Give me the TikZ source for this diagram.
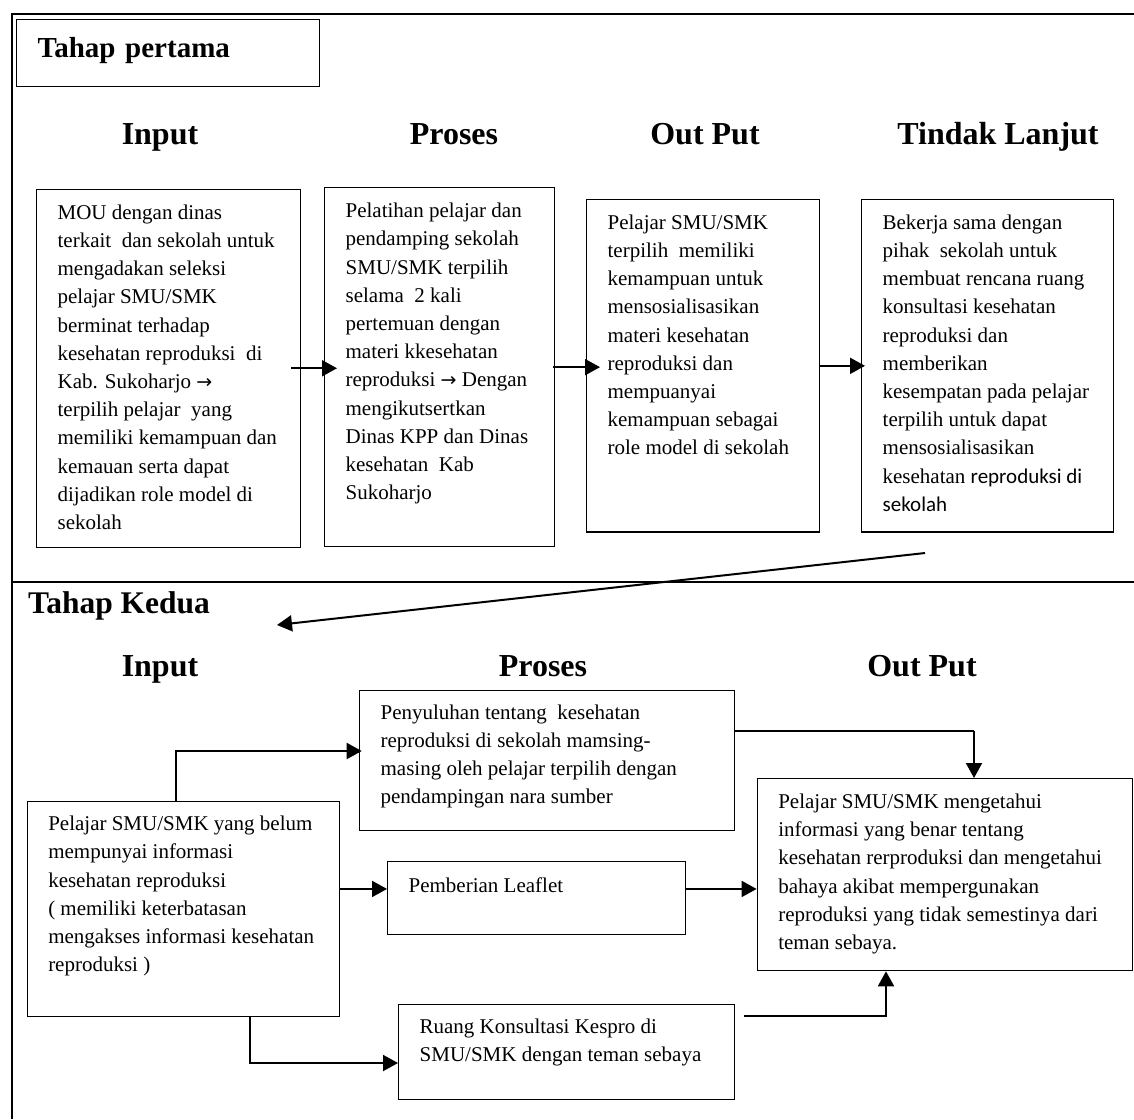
\documentclass[tikz,border=0pt]{standalone}
\usepackage{fontspec}
\setmainfont{Liberation Serif}
\newfontfamily\carlito{Carlito}
\newfontfamily\dejavu{DejaVu Sans}
\usetikzlibrary{calc, arrows.meta}
\newcommand{\isikotak}[2]{\parbox[t]{#1}{\raggedright\fontsize{21}{28.2}\selectfont #2}}
\newcommand{\panahteks}{{\dejavu\fontsize{19}{28.2}\selectfont →}}
\tikzset{
    kotak/.style 2 args={
        draw, line width=1.3pt, anchor=north west,
        inner xsep=21pt, inner ysep=0pt,
        text height=#1, text depth=#2
    },
    judul/.style={anchor=base, inner sep=0pt, font=\fontsize{32}{36}\selectfont\bfseries},
    bingkai/.style={line width=2pt},
    panah/.style={line width=2pt, -{Triangle[length=15pt, width=16pt]}},
    garis tipis/.style={line width=1.3pt}
}
\begin{document}
\begin{tikzpicture}[x=1pt, y=-1pt]
\useasboundingbox (0,0) rectangle (1134,1119);

% Marco exterior y division entre las dos etapas.
\draw[bingkai] (1134,14.3) -- (11.8,14.3) -- (11.8,1119);
\draw[bingkai] (11.8,582) -- (1134,582);

% Primera etapa: titulo y encabezados.
\node[draw, line width=1.3pt, anchor=north west, text width=260.5pt,
      inner xsep=21.5pt, inner ysep=0pt, text height=38.4pt, text depth=28.7pt,
      font=\fontsize{29}{32}\selectfont\bfseries] (tahap1) at (15.5,18.6) {Tahap pertama};
\node[judul] (jmasuk1) at (160,144.6) {Input};
\node[judul] (jproses1) at (454,144.6) {Proses};
\node[judul] (jhasil1) at (705,144.6) {Out Put};
\node[judul] (jlanjut1) at (998,144.6) {Tindak Lanjut};

% Cajas de la primera etapa.
\node[kotak={30pt}{328pt}] (masuk1) at (36,188.6) {\isikotak{222pt}{MOU dengan dinas\\
terkait~ dan sekolah untuk\\ mengadakan seleksi\\ pelajar SMU/SMK\\ berminat terhadap\\
kesehatan reproduksi~ di\\ Kab. Sukoharjo \panahteks\\ terpilih pelajar~ yang\\
memiliki kemampuan dan\\ kemauan serta dapat\\ dijadikan role model di\\ sekolah}};
\node[kotak={30pt}{329pt}] (proses1) at (324,187) {\isikotak{188pt}{Pelatihan pelajar dan\\
pendamping sekolah\\ SMU/SMK terpilih\\ selama~ 2 kali\\ pertemuan dengan\\
materi kkesehatan\\ reproduksi \panahteks\ Dengan\\ mengikutsertkan\\ Dinas KPP dan Dinas\\
kesehatan~ Kab\\ Sukoharjo}};
\node[kotak={29.6pt}{302.8pt}] (hasil1) at (586,199) {\isikotak{191pt}{Pelajar SMU/SMK\\
terpilih~ memiliki\\ kemampuan untuk\\ mensosialisasikan\\ materi kesehatan\\
reproduksi dan\\ mempuanyai\\ kemampuan sebagai\\ role model di sekolah}};
\node[kotak={29.6pt}{302.8pt}] (lanjut1) at (861,199) {\isikotak{210pt}{Bekerja sama dengan\\
pihak~ sekolah untuk\\ membuat rencana ruang\\ konsultasi kesehatan\\ reproduksi dan\\
memberikan\\ kesempatan pada pelajar\\ terpilih untuk dapat\\ mensosialisasikan\\
kesehatan {\carlito reproduksi di}\\ {\carlito sekolah}}};

% Flechas de la primera etapa.
\draw[panah, shorten <=-10pt, shorten >=-13pt] (masuk1.east) -- (masuk1.east -| proses1.west);
\draw[panah, shorten <=-2pt, shorten >=-14pt] (proses1.east) -- (proses1.east -| hasil1.west);
\draw[panah, shorten >=-4pt] (hasil1.east) -- (hasil1.east -| lanjut1.west);

% Paso hacia la segunda etapa.
\coordinate (d1) at (925,553);
\coordinate (d2) at (277,625);
\draw[panah] (d1) -- (d2);

% Segunda etapa: titulo y encabezados.
\node[anchor=base west, inner sep=0pt, font=\fontsize{31.5}{34}\selectfont\bfseries]
    (tahap2) at (28,613.5) {Tahap Kedua};
\node[judul] (jmasuk2) at (160,676) {Input};
\node[judul] (jproses2) at (543,676) {Proses};
\node[judul] (jhasil2) at (922,676) {Out Put};

% Cajas de la segunda etapa.
\node[kotak={28.6pt}{111.4pt}] (proses2a) at (359,690) {\isikotak{333pt}{Penyuluhan tentang~ kesehatan\\
reproduksi di sekolah mamsing-\\ masing oleh pelajar terpilih dengan\\ pendampingan nara sumber}};
\node[kotak={29pt}{185.6pt}] (masuk2) at (26.6,801) {\isikotak{270pt}{Pelajar SMU/SMK yang belum\\
mempunyai informasi\\ kesehatan reproduksi\\ ( memiliki keterbatasan\\
mengakses informasi kesehatan\\ reproduksi )}};
\node[kotak={30.5pt}{42.1pt}] (proses2b) at (387,861) {\isikotak{256pt}{Pemberian Leaflet}};
\node[kotak={29.2pt}{66pt}] (proses2c) at (398,1003.8) {\isikotak{294pt}{Ruang Konsultasi Kespro di\\
SMU/SMK dengan teman sebaya}};
\node[kotak={29.8pt}{162.2pt}] (hasil2) at (756.6,778) {\isikotak{333pt}{Pelajar SMU/SMK mengetahui\\
informasi yang benar tentang\\ kesehatan rerproduksi dan mengetahui\\
bahaya akibat mempergunakan\\ reproduksi yang tidak semestinya dari\\ teman sebaya.}};

% Puntos de quiebre de las flechas.
\coordinate (k1) at (175.7,751);
\coordinate (k2) at ([yshift=9pt]proses2b.west);
\coordinate (k3) at (250,1063);
\coordinate (k4) at (974,731);
\coordinate (k5) at (886,1015.6);

% Flechas de la segunda etapa.
\draw[panah, shorten >=-2.7pt] (k1 |- masuk2.north) -- (k1) -- (k1 -| proses2a.west);
\draw[panah] (masuk2.east |- k2) -- (k2);
\draw[panah] (k3 |- masuk2.south) -- (k3) -- (k3 -| proses2c.west);
\draw[garis tipis] (proses2a.east |- k4) -- (k4);
\draw[panah] (k4) -- (k4 |- hasil2.north);
\draw[panah] (proses2b.east |- k2) -- (hasil2.west |- k2);
\draw[panah] ($(proses2c.east |- k5)+(9,0)$) -- (k5) -- (k5 |- hasil2.south);

\end{tikzpicture}
\end{document}
